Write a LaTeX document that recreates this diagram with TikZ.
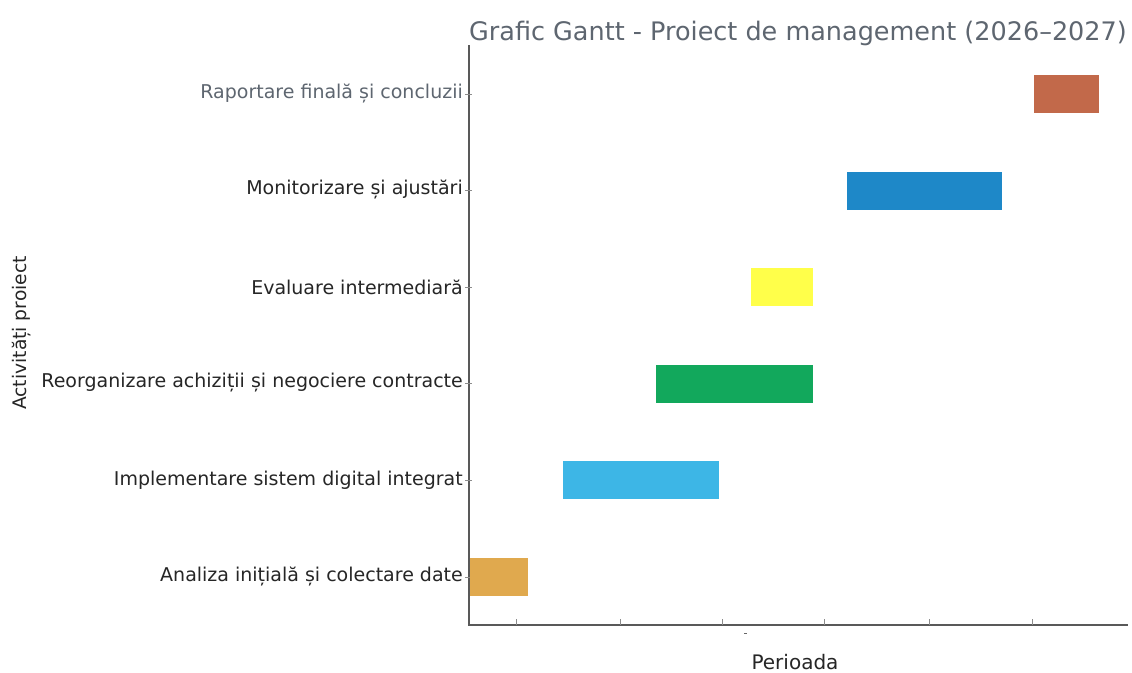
\documentclass[tikz,border=0pt]{standalone}
\usepackage{fontspec}
\setmainfont{DejaVu Sans}
\definecolor{titlegray}{HTML}{5E6670}
\begin{document}
\begin{tikzpicture}[x=1pt,y=-1pt,
  lbl/.style={anchor=east,inner sep=0pt,font=\fontsize{19}{22}\selectfont,text=black!85},
  bar/.style={draw=none},
  axisline/.style={draw=black!65,line width=1.2pt},
  tickmark/.style={draw=black!45,line width=0.8pt}]
\useasboundingbox (0,0) rectangle (1132,672);
\fill[white] (0,0) rectangle (1132,672);
% title
\node[font=\fontsize{25.5}{28}\selectfont,text=titlegray,inner sep=0pt] (title) at (798,33) {Grafic Gantt - Proiect de management (2026–2027)};
% axes
\coordinate (o) at (469,625);
\coordinate (ytop) at (469,45);
\coordinate (xend) at (1128,625);
\draw[axisline] (ytop) -- (o) -- (xend);
% x ticks
\foreach \x in {516,620,722,824,929,1032}{
  \draw[tickmark] (\x,625) -- (\x,619);
}
% y ticks and labels
\foreach \y/\n in {94/r6,190/r5,287/r4,383/r3,480/r2,577/r1}{
  \draw[tickmark] (465,\y) -- (472,\y);
  \coordinate (\n) at (463,\y);
}
\node[lbl,text=titlegray] (l6) at (r6) {Raportare finală și concluzii};
\node[lbl] (l5) at (r5) {Monitorizare și ajustări};
\node[lbl] (l4) at (r4) {Evaluare intermediară};
\node[lbl] (l3) at (r3) {Reorganizare achiziții și negociere contracte};
\node[lbl] (l2) at (r2) {Implementare sistem digital integrat};
\node[lbl] (l1) at (r1) {Analiza inițială și colectare date};
% bars
\definecolor{c1}{HTML}{E0A94E}
\definecolor{c2}{HTML}{3DB6E6}
\definecolor{c3}{HTML}{12A85C}
\definecolor{c4}{HTML}{FFFF4A}
\definecolor{c5}{HTML}{1E88C8}
\definecolor{c6}{HTML}{C2694A}
\fill[c1] (470,558) rectangle (528,596);
\fill[c2] (563,461) rectangle (719,499);
\fill[c3] (656,365) rectangle (813,403);
\fill[c4] (751,268) rectangle (813,306);
\fill[c5] (847,172) rectangle (1002,210);
\fill[c6] (1034,75) rectangle (1099,113);
% axis labels
\node[font=\fontsize{20}{22}\selectfont,text=black!85,inner sep=0pt] (xl) at (795,662) {Perioada};
\draw[black!60,line width=0.8pt] (744,633) -- (747,633);
\node[font=\fontsize{18.7}{21}\selectfont,text=black!85,inner sep=0pt,rotate=90] (yl) at (22,333) {Activități proiect};
\end{tikzpicture}
\end{document}
